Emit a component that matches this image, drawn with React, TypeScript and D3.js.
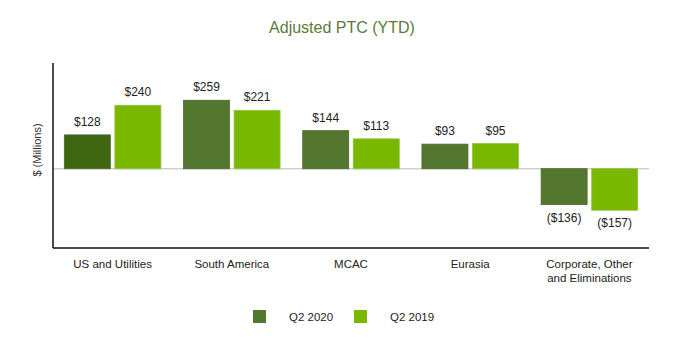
import * as d3 from 'd3';

const categories = ['US and Utilities', 'South America', 'MCAC', 'Eurasia', 'Corporate, Other\nand Eliminations'];
const seriesNames = ['Q2 2020', 'Q2 2019'];
const q2_2020 = [128, 259, 144, 93, -136];
const q2_2019 = [240, 221, 113, 95, -157];

const COLORS = ['#54772f', '#7ab800'];
const STROKES = ['#4a6b2a', '#8cc63f'];
const US_2020 = '#3f6610';

const W = 682;
const H = 353;

const fmt = (v: number) => (v < 0 ? `($${Math.abs(v)})` : `$${v}`);

export default function App() {
  const left = 53;
  const right = 649;
  const top = 63;
  const bottom = 248;

  const x = d3.scaleBand<number>().domain(d3.range(categories.length)).range([left, right]).paddingInner(0.19).paddingOuter(0.095);
  const xs = d3.scaleBand<number>().domain([0, 1]).range([0, x.bandwidth()]).paddingInner(0.09);
  const y = d3.scaleLinear().domain([-300, 400]).range([bottom, top]);

  const series = [q2_2020, q2_2019];
  const font = '"Liberation Sans", Arial, sans-serif';

  return (
    <svg width={W} height={H} style={{ position: 'absolute', left: 0, top: 0 }} fontFamily={font}>
      <rect width={W} height={H} fill="#fff" />
      <text x={342} y={33} textAnchor="middle" fontSize={16} fill="#5b7b3a">
        Adjusted PTC (YTD)
      </text>

      <text transform={`translate(41,150) rotate(-90)`} textAnchor="middle" fontSize={11} fill="#333">
        $ (Millions)
      </text>

      <line x1={left} x2={right} y1={y(0)} y2={y(0)} stroke="#d0d0d0" strokeWidth={1.5} />

      {series.map((vals, s) =>
        vals.map((v, i) => {
          const bx = (x(i) ?? 0) + (xs(s) ?? 0);
          const y0 = y(Math.max(0, v));
          const h = Math.abs(y(v) - y(0));
          const fill = s === 0 && i === 0 ? US_2020 : COLORS[s];
          return (
            <g key={`${s}-${i}`}>
              <rect x={bx} y={y0} width={xs.bandwidth()} height={h} fill={fill} stroke={STROKES[s]} strokeWidth={0.8} />
              <text
                x={bx + xs.bandwidth() / 2}
                y={v >= 0 ? y(v) - 9 : y(v) + 17}
                textAnchor="middle"
                fontSize={12}
                fill="#222"
              >
                {fmt(v)}
              </text>
            </g>
          );
        })
      )}

      <line x1={left} x2={left} y1={top} y2={bottom} stroke="#111" strokeWidth={1.5} />
      <line x1={left} x2={right} y1={bottom} y2={bottom} stroke="#111" strokeWidth={1.5} />

      {categories.map((c, i) => (
        <text key={c} x={(x(i) ?? 0) + x.bandwidth() / 2} y={268} textAnchor="middle" fontSize={11.5} fill="#222">
          {c.split('\n').map((line, k) => (
            <tspan key={k} x={(x(i) ?? 0) + x.bandwidth() / 2} dy={k === 0 ? 0 : 13.5}>
              {line}
            </tspan>
          ))}
        </text>
      ))}

      {seriesNames.map((name, s) => (
        <g key={name} transform={`translate(${253 + s * 101},310)`}>
          <rect width={13} height={13} fill={COLORS[s]} />
          <text x={36} y={11} fontSize={11.5} fill="#222">
            {name}
          </text>
        </g>
      ))}
    </svg>
  );
}
